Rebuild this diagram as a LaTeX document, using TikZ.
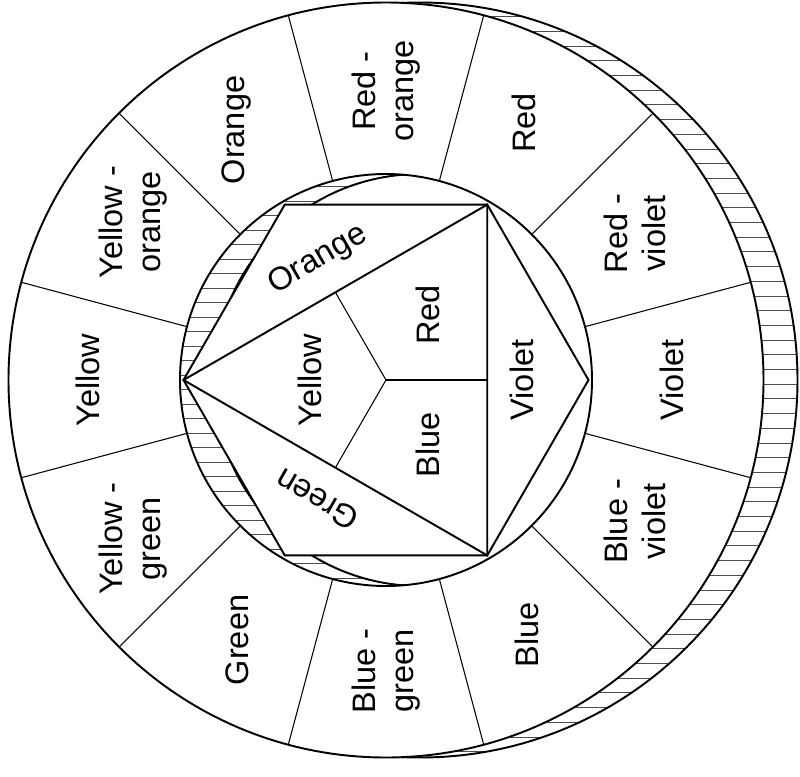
\documentclass[tikz,border=0pt]{standalone}
\usepackage{fontspec}
\setmainfont{Liberation Sans}
\usetikzlibrary{calc}

\begin{document}
\begin{tikzpicture}[
    rim/.style={line width=1.1pt},
    spoke/.style={line width=0.6pt},
    hatch/.style={line width=0.5pt, black!70},
    ring label/.style={font=\fontsize{18.5}{21.6}\selectfont, rotate=90, align=center, inner sep=0pt},
    face label/.style={font=\fontsize{18.5}{21.6}\selectfont, inner sep=0pt}
]
    \useasboundingbox (-7.72,-7.92) rectangle (8.28,7.6);

    % outer disk, edge seen on the right
    \coordinate (front) at (0,0);
    \coordinate (back) at (0.68,0);
    \begin{scope}
        \clip (back) circle (7.55);
        \foreach \k in {-27,...,26}
            \draw[hatch] (0,{0.21+\k*0.294}) -- (8.4,{0.21+\k*0.294});
    \end{scope}
    \draw[rim] (back) circle (7.55);
    \draw[rim, fill=white] (front) circle (7.55);

    % twelve ring sectors
    \foreach \a in {15,45,...,345}
        \draw[spoke] (\a:4.12) -- (\a:7.55);
    \foreach \x/\y/\txt [count=\i] in {
        5.72/0/Violet, 4.98/2.93/{Red -\\violet}, 2.76/5.14/Red,
        0/5.78/{Red -\\orange}, -2.98/5.0/Orange, -5.05/3.16/{Yellow -\\orange},
        -5.96/0/Yellow, -5.05/-3.17/{Yellow -\\green}, -2.98/-5.2/Green,
        0/-5.82/{Blue -\\green}, 2.82/-5.1/Blue, 4.98/-2.83/{Blue -\\violet}}
        \node[ring label] (ring\i) at (\x,\y) {\txt};

    % inner disk, edge seen on the left
    \coordinate (hub) at (0,0);
    \coordinate (hubback) at (0.68,0);
    \fill[white] (hub) circle (4.12);
    \begin{scope}
        \clip (hub) circle (4.12);
        \foreach \k in {-15,...,14}
            \draw[hatch] (-4.2,{0.1+\k*0.29}) -- (0.5,{0.1+\k*0.29});
        \draw[rim, fill=white] (hubback) circle (4.12);
    \end{scope}
    \draw[rim] (hub) circle (4.12);

    % hexagon with triangle
    \foreach \a [count=\i from 0] in {0,60,...,300}
        \coordinate (h\i) at (\a:4.05);
    \draw[rim, fill=white] (h0) -- (h1) -- (h2) -- (h3) -- (h4) -- (h5) -- cycle;
    \draw[rim] (h3) -- (h1) -- (h5) -- cycle;
    \coordinate (m31) at ($(h3)!0.5!(h1)$);
    \coordinate (m15) at ($(h1)!0.5!(h5)$);
    \coordinate (m53) at ($(h5)!0.5!(h3)$);
    \draw[spoke] (hub) -- (m31);
    \draw[spoke] (hub) -- (m15);
    \draw[spoke] (hub) -- (m53);

    \node[face label, rotate=30] (orangeface) at (-1.36,2.4) {Orange};
    \node[face label, rotate=150] (greenface) at (-1.38,-2.4) {Green};
    \node[face label, rotate=90] (violetface) at (2.72,0) {Violet};
    \node[face label, rotate=90] (yellowface) at (-1.52,0) {Yellow};
    \node[face label, rotate=90] (redface) at (0.84,1.3) {Red};
    \node[face label, rotate=90] (blueface) at (0.84,-1.3) {Blue};
\end{tikzpicture}
\end{document}
